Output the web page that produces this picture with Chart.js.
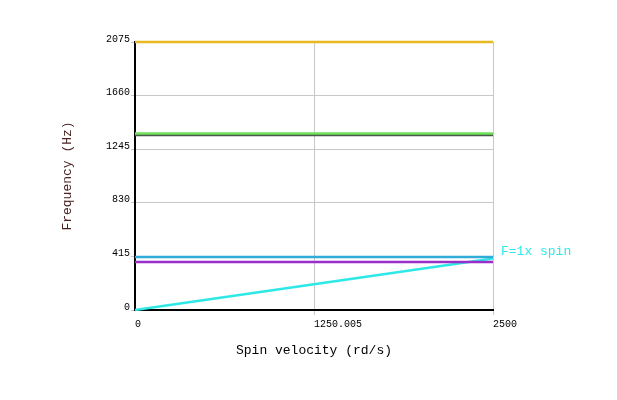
<!DOCTYPE html>
<html>
<head>
<meta charset="utf-8">
<script src="https://cdn.jsdelivr.net/npm/chart.js@4/dist/chart.umd.min.js"></script>
<style>
html,body{margin:0;padding:0;background:#fff;}
canvas{display:block;}
</style>
</head>
<body>
<canvas id="c" width="617" height="400"></canvas>
<script>
// ---- data ----
const spinRange = [0, 2500];                 // rd/s
const xTickValues = [0, 1250.005, 2500];
const yTickValues = [0, 415, 830, 1245, 1660, 2075];
const modeNames = ['Mode 1', 'Mode 2', 'Mode 3', 'Mode 4', 'Mode 5'];
const modeStart = [2075, 1366, 1355, 410, 372]; // Hz at 0 rd/s
const modeEnd   = [2075, 1366, 1355, 410, 372]; // Hz at 2500 rd/s
const modeColors = ['#e8b820', '#6ee05a', '#4a5a48', '#30acd8', '#9a2ec8'];
const spinLineName = 'F=1x spin';
const spinLine = [0, 398];                   // Hz at 0 and 2500 rd/s
const spinColor = '#2ee8e8';

const mono = "'Liberation Mono', 'DejaVu Sans Mono', monospace";

const datasets = modeNames.map((n, i) => ({
  label: n,
  data: [{x: spinRange[0], y: modeStart[i]}, {x: spinRange[1], y: modeEnd[i]}],
  borderColor: modeColors[i],
  borderWidth: 2.5,
  pointRadius: 0,
  fill: false,
  clip: 4
}));
datasets.push({
  label: spinLineName,
  data: [{x: spinRange[0], y: spinLine[0]}, {x: spinRange[1], y: spinLine[1]}],
  borderColor: spinColor,
  borderWidth: 2.5,
  pointRadius: 0,
  fill: false,
  clip: 4
});

const labelPlugin = {
  id: 'spinLabel',
  afterDatasetsDraw(chart) {
    const {ctx, scales} = chart;
    const x = scales.x.getPixelForValue(spinRange[1]) + 8;
    const y = scales.y.getPixelForValue(spinLine[1]) - 7;
    ctx.save();
    ctx.font = "13px " + mono;
    ctx.fillStyle = spinColor;
    ctx.textAlign = 'left';
    ctx.textBaseline = 'middle';
    ctx.fillText(spinLineName, x, y);
    ctx.restore();
  }
};

new Chart(document.getElementById('c'), {
  type: 'line',
  data: { datasets },
  plugins: [labelPlugin],
  options: {
    responsive: false,
    animation: false,
    layout: { padding: { left: 0, top: 42, right: 124, bottom: 0 } },
    plugins: { legend: { display: false }, tooltip: { enabled: false } },
    scales: {
      x: {
        type: 'linear',
        min: spinRange[0],
        max: spinRange[1],
        afterBuildTicks: s => { s.ticks = xTickValues.map(v => ({value: v})); },
        afterFit: s => { s.height = 90; },
        border: { display: true, color: '#000', width: 2 },
        grid: { color: ctx => ctx.index === 0 ? 'rgba(0,0,0,0)' : '#c8c8c8', lineWidth: 1, tickLength: 5, drawTicks: true },
        ticks: {
          align: 'start',
          padding: 3,
          color: '#000',
          font: { family: mono, size: 10 },
          maxRotation: 0,
          autoSkip: false,
          callback: v => String(v)
        },
        title: {
          display: true,
          text: 'Spin velocity (rd/s)',
          color: '#000',
          font: { family: mono, size: 13 },
          padding: { top: 0, bottom: 42 }
        }
      },
      y: {
        type: 'linear',
        min: yTickValues[0],
        max: yTickValues[yTickValues.length - 1],
        afterBuildTicks: s => { s.ticks = yTickValues.map(v => ({value: v})); },
        afterFit: s => { s.width = 135; },
        border: { display: true, color: '#000', width: 2 },
        grid: { color: '#c8c8c8', lineWidth: 1, tickLength: 4, drawTicks: true },
        ticks: {
          padding: 1,
          labelOffset: -3,
          color: '#000',
          font: { family: mono, size: 10 },
          autoSkip: false,
          callback: v => String(v)
        },
        title: {
          display: true,
          text: 'Frequency (Hz)',
          color: '#4a2222',
          font: { family: mono, size: 13 },
          padding: { top: 60, bottom: 0 }
        }
      }
    }
  }
});
</script>
</body>
</html>
